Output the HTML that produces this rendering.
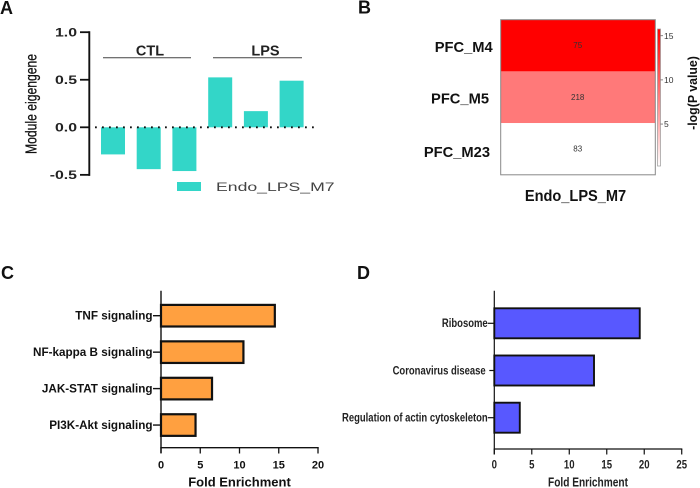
<!DOCTYPE html>
<html lang="en">
<head>
<meta charset="utf-8">
<title>Module eigengene figure</title>
<style>
html,body{margin:0;padding:0;background:#fff;width:700px;height:488px;overflow:hidden}
svg{display:block;font-family:"Liberation Sans",sans-serif}
</style>
</head>
<body>
<svg id="fig" xmlns="http://www.w3.org/2000/svg" width="700" height="488" viewBox="0 0 700 488">
<defs>
<linearGradient id="cbar" x1="0" y1="1" x2="0" y2="0"><stop offset="0" stop-color="#fff"/><stop offset="1" stop-color="#f00"/></linearGradient>
</defs>
<g id="a"></g>
<g id="b"></g>
<g id="c"></g>
<g id="d"></g>
<text x="0" y="14" font-size="18" font-weight="700" fill="#111">A</text>
<text x="358" y="13.5" font-size="18" font-weight="700" fill="#111">B</text>
<text x="1" y="279" font-size="18" font-weight="700" fill="#111">C</text>
<text x="357" y="279" font-size="18" font-weight="700" fill="#111">D</text>
</svg>
<script>
// Panel A data
const eigenSamples = ['CTL1','CTL2','CTL3','LPS1','LPS2','LPS3'];
const eigenValues = [-0.285,-0.44,-0.46,0.525,0.17,0.49];
const eigenTicks = [1.0,0.5,0.0,-0.5];
const eigenTickLabels = ['1.0','0.5','0.0','-0.5'];
// Panel B data
const heatRows = ['PFC_M4','PFC_M5','PFC_M23'];
const heatValues = [15.75,8.4,0.25];
const heatCounts = ['75','218','83'];
const heatScaleTicks = [15,10,5];
// Panel C data
const tnfTerms = ['TNF signaling','NF-kappa B signaling','JAK-STAT signaling','PI3K-Akt signaling'];
const tnfValues = [14.5,10.5,6.5,4.4];
const tnfTicks = [0,5,10,15,20];
// Panel D data
const riboTerms = ['Ribosome','Coronavirus disease','Regulation of actin cytoskeleton'];
const riboValues = [19.4,13.3,3.4];
const riboTicks = [0,5,10,15,20,25];

const NS='http://www.w3.org/2000/svg';
function mk(parent,tag,props){
  const e=document.createElementNS(NS,tag);
  for(const k in props) e.setAttribute(k,props[k]);
  parent.appendChild(e);
  return e;
}
function label(parent,x,y,str,size,weight,fill,anchor,sx,rot){
  const t=mk(parent,'text',{
    'font-size':size,'font-weight':weight,fill:fill,'text-anchor':anchor,
    transform:'translate('+x+' '+y+')'+(rot?' rotate('+rot+')':'')+' scale('+sx+' 1)'
  });
  t.textContent=str;
  return t;
}
function line(parent,x1,y1,x2,y2,stroke,w){
  return mk(parent,'line',{x1:x1,y1:y1,x2:x2,y2:y2,stroke:stroke,'stroke-width':w});
}
let el;

/* ---------- Panel A ---------- */
const A=document.getElementById('a');
const aY=v=>127.3-v*95.1;
const aX=i=>113+i*35.7+(i>2?0.1:0);
const aBarW=24;
eigenValues.forEach((v,i)=>{
  el=mk(A,'rect',{x:aX(i)-aBarW/2,y:Math.min(aY(v),aY(0)),width:aBarW,height:Math.abs(aY(v)-aY(0)),fill:'#33d6c8'});
  
  
});
el=mk(A,'line',{x1:95,y1:aY(0),x2:315,y2:aY(0),stroke:'#111','stroke-width':1.8,'stroke-dasharray':'1.8 5.2'});


el=line(A,89.3,aY(1)-1,89.3,aY(-0.5)+1,'#111',1.9);


eigenTicks.forEach((v,i)=>{
  el=line(A,80,aY(v),89.3,aY(v),'#111',1.8);
  
  
  el=label(A,77,aY(v)+4.2,eigenTickLabels[i],12,700,'#222','end',1.32);
  
  
});
el=label(A,36.5,104,'Module eigengene',16,400,'#111','middle',0.76,-90);
el.setAttribute('stroke','#111');
el.setAttribute('stroke-width','0.25');


el=line(A,103,57.7,191,57.7,'#444',1);


el=line(A,213,57.7,302,57.7,'#444',1);


el=label(A,150,55.5,'CTL',14.5,700,'#222','middle',1);


el=label(A,265.5,55.5,'LPS',14.5,700,'#222','middle',1);


el=mk(A,'rect',{x:177,y:182,width:24,height:9,fill:'#33d6c8'});


el=label(A,216,191,'Endo_LPS_M7',12,400,'#444','start',1.47);



/* ---------- Panel B ---------- */
const B=document.getElementById('b');
const bTop=19.7, bLeft=500.7, bRight=655.3, bRowH=51.7;
const bY=i=>bTop+i*bRowH;
const scaleMin=0.25, scaleMax=15.75;
const cbY=v=>168.2-v*8.83;
const heatColor=v=>{
  const f=Math.max(0,Math.min(1,(v-scaleMin)/(scaleMax-scaleMin)));
  const g=Math.round(255*(1-f));
  return 'rgb(255,'+g+','+g+')';
};
const rowLabelRight=[492.7,489,490];
const rowLabelBase=[52,103.7,157];
heatRows.forEach((r,i)=>{
  el=mk(B,'rect',{x:bLeft,y:bY(i),width:bRight-bLeft,height:bRowH,fill:heatColor(heatValues[i])});
  
  
  el=label(B,577.7,bY(i)+bRowH/2+2.6,heatCounts[i],8,400,'#333','middle',1);
  
  
  el=label(B,rowLabelRight[i],rowLabelBase[i],r,15,700,'#111','end',0.98);
  
  
});
el=mk(B,'rect',{x:bLeft,y:bTop,width:bRight-bLeft,height:bRowH*3,fill:'none',stroke:'#888','stroke-width':1});


el=mk(B,'rect',{x:657.5,y:29,width:3,height:137,fill:'url(#cbar)',stroke:'#999','stroke-width':0.7});


heatScaleTicks.forEach(v=>{
  el=line(B,660.5,cbY(v),663,cbY(v),'#555',0.7);
  
  
  el=label(B,664,cbY(v)+3,String(v),8.5,400,'#333','start',1);
  
  
});
el=label(B,697,93,'-log(P value)',13,700,'#111','middle',0.95,-90);


el=label(B,575.5,201,'Endo_LPS_M7',16,700,'#111','middle',0.913);



/* ---------- Panel C ---------- */
const C=document.getElementById('c');
const cX=v=>161+v*7.85;
const cY=i=>315.7+i*36.45;
tnfValues.forEach((v,i)=>{
  el=mk(C,'rect',{x:cX(0),y:cY(i)-10.8,width:cX(v)-cX(0),height:21.6,fill:'#ffa040',stroke:'#111','stroke-width':2.2});
  
  
  el=line(C,153,cY(i),161,cY(i),'#111',1.4);
  
  
  el=label(C,152.5,cY(i)+4,tnfTerms[i],11.7,700,'#111','end',1);
  
  
});
el=line(C,161,290.7,161,453,'#111',1.4);


el=line(C,160.3,447.7,cX(20)+0.7,447.7,'#111',1.4);


tnfTicks.forEach(v=>{
  el=line(C,cX(v),447.7,cX(v),453.5,'#111',1.3);
  
  
  el=label(C,cX(v),468.3,String(v),11,700,'#111','middle',1);
  
  
});
el=label(C,239.5,486.7,'Fold Enrichment',13,700,'#111','middle',1);



/* ---------- Panel D ---------- */
const D=document.getElementById('d');
const dX=v=>494.3+v*7.497;
const dY=i=>323.3+i*47.2;
riboValues.forEach((v,i)=>{
  el=mk(D,'rect',{x:dX(0),y:dY(i)-15,width:dX(v)-dX(0),height:30,fill:'#5858ff',stroke:'#111','stroke-width':1.9});
  
  
  const tickStart=i===1?489.3:487.8;
  el=line(D,tickStart,dY(i),494.3,dY(i),'#111',1.2);
  
  
  el=label(D,i===1?485.7:487.7,dY(i)+3.8,riboTerms[i],12,700,'#222','end',0.79);
  
  
});
el=line(D,494.3,290.7,494.3,454.5,'#111',1.2);


el=line(D,493.7,449,dX(25)+0.6,449,'#111',1.2);


riboTicks.forEach(v=>{
  el=line(D,dX(v),449,dX(v),454.5,'#111',1.2);
  
  
  el=label(D,dX(v),468.7,String(v),12,700,'#222','middle',0.8);
  
  
});
el=label(D,588,486.7,'Fold Enrichment',13,700,'#222','middle',0.78);


</script>
</body>
</html>
